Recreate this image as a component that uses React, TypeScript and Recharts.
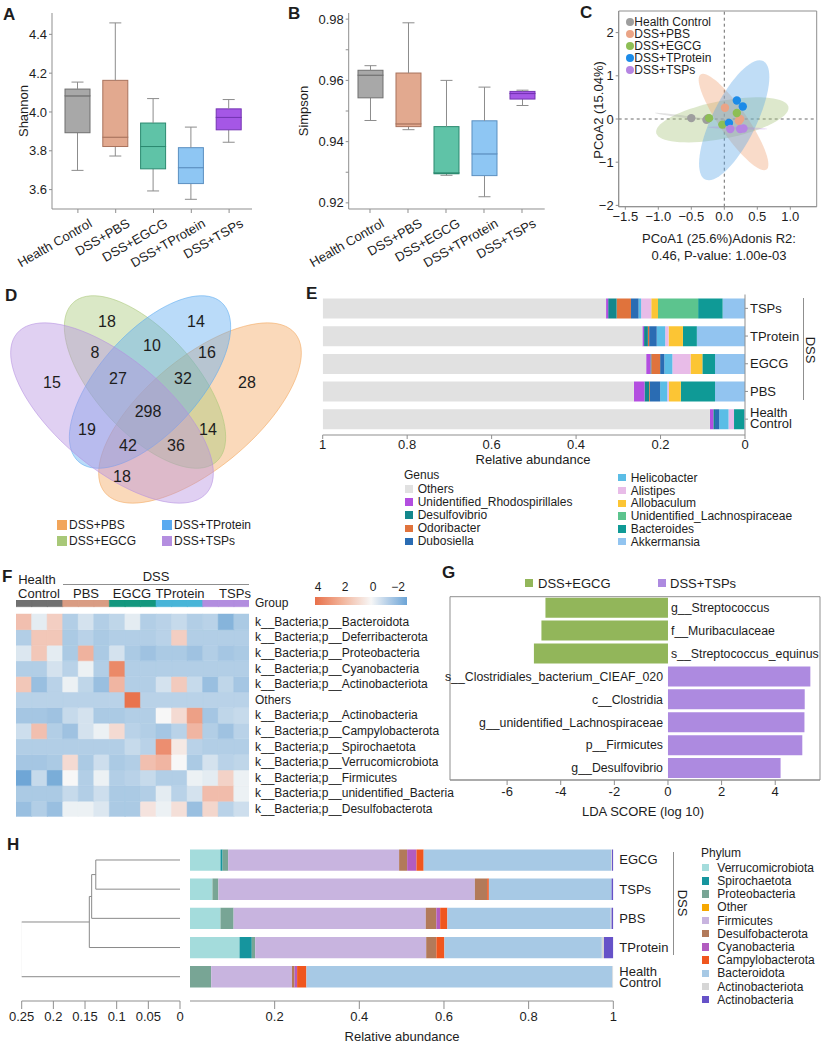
import React from "react";
import { Bar, BarChart, Cell, LabelList, ReferenceArea, ReferenceLine, Scatter, ScatterChart, XAxis, YAxis } from "recharts";

const FONT = '"Liberation Sans", Arial, Helvetica, sans-serif';
const INK = "#1d1d1d";
const AXIS = "#8f8f8f";

// ---- A / B: alpha diversity
const groups = ["Health Control", "DSS+PBS", "DSS+EGCG", "DSS+TProtein", "DSS+TSPs"];
const boxFill = ["#a8a8a8", "#e2a98f", "#5fc3a7", "#8ec6f3", "#a557e6"];
const boxEdge = ["#6f6f6f", "#a9735d", "#2c8a70", "#5b8fc0", "#7434b3"];
const shannonMin = [3.699, 3.773, 3.593, 3.55, 3.844];
const shannonQ1 = [3.893, 3.822, 3.707, 3.631, 3.908];
const shannonMed = [4.083, 3.87, 3.822, 3.713, 3.972];
const shannonQ3 = [4.118, 4.163, 3.943, 3.816, 4.016];
const shannonMax = [4.154, 4.459, 4.069, 3.922, 4.064];
const simpsonMin = [0.9469, 0.9439, 0.929, 0.922, 0.9518];
const simpsonQ1 = [0.9543, 0.9449, 0.9295, 0.9289, 0.9539];
const simpsonMed = [0.9617, 0.9458, 0.9298, 0.936, 0.9557];
const simpsonQ3 = [0.9633, 0.9624, 0.9449, 0.9468, 0.9564];
const simpsonMax = [0.9648, 0.9788, 0.96, 0.9578, 0.9568];

// ---- C: PCoA
const pcoaColor = ["#9e9e9e", "#eaa486", "#8dbe55", "#1c8be8", "#b585e2"];
const pcoaX = [[-0.5, -0.27, -0.25], [0.01, 0.22, 0.24], [-0.23, 0.19, -0.03], [0.19, 0.28, 0.07], [0.09, 0.24, 0.29]];
const pcoaY = [[0.02, -0.02, 0.01], [0.26, -0.04, 0.0], [0.02, 0.14, -0.13], [0.43, 0.29, -0.09], [-0.23, -0.23, -0.22]];
const ellCentre = [[-0.64, 0.06], [0.14, -0.07], [-0.03, -0.02], [0.15, -0.03], [0.2, -0.21]];
const ellAxisU = [[0.41, -0.08], [-0.5, 1.1], [1.0, 0.31], [0.44, 1.37], [0.45, -0.02]];
const ellAxisV = [[0.005, 0.025], [0.17, 0.19], [-0.08, 0.42], [0.3, -0.225], [0, 0.03]];
const ellFill = ["#9e9e9e", "#f0a070", "#a5c279", "#5aa5e8", "#b585e2"];
const ellOrder = [2, 1, 3, 0, 4];

// ---- D: Venn
const vennNames = ["DSS+PBS", "DSS+EGCG", "DSS+TProtein", "DSS+TSPs"];
const vennColor = ["#f2a55a", "#a8c878", "#5aaaf0", "#b48ee0"];
const vennCounts = [18, 14, 8, 10, 16, 15, 27, 32, 28, 298, 19, 14, 42, 36, 18];
const vennOval = [[200, 128, 124, 55, -40], [145, 97, 107, 50, 48], [150, 97, 107, 50, -48], [112, 128, 124, 55, 40]];
const vennSpot = [[107, 36], [196, 36], [95, 67], [152, 60], [207, 67], [52, 97], [118, 93], [183, 93], [247, 97], [148, 126], [87, 144], [208, 144], [128, 160], [176, 160], [122, 191]];

// ---- E: genus composition
const eGroups = ["TSPs", "TProtein", "EGCG", "PBS", "Health Control"];
const genusNames = ["Akkermansia", "Bacteroides", "Unidentified_Lachnospiraceae", "Allobaculum", "Alistipes", "Helicobacter", "Dubosiella", "Odoribacter", "Desulfovibrio", "Unidentified_Rhodospirillales", "Others"];
const genusColor = ["#92c4f0", "#0f9a96", "#5cc48e", "#fcc534", "#e8bce8", "#5bbde6", "#2a6cb3", "#e0733c", "#13878c", "#b34ee0", "#e1e1e1"];
const akkermansia = [0.053, 0.114, 0.071, 0.071, 0.002];
const bacteroides = [0.058, 0.033, 0.03, 0.081, 0.024];
const lachnospiraceae = [0.095, 0, 0, 0, 0];
const allobaculum = [0.016, 0.034, 0.028, 0.028, 0];
const alistipes = [0.024, 0.008, 0.043, 0.004, 0.013];
const helicobacter = [0.006, 0.02, 0.019, 0.017, 0.022];
const dubosiella = [0.018, 0.018, 0.01, 0.024, 0.01];
const odoribacter = [0.034, 0.003, 0.021, 0.002, 0];
const desulfovibrio = [0.02, 0.009, 0.002, 0.011, 0.004];
const rhodospirillales = [0.005, 0.004, 0.01, 0.025, 0.008];
const othersGenus = [0.671, 0.757, 0.766, 0.737, 0.917];
const genusValues = [akkermansia, bacteroides, lachnospiraceae, allobaculum, alistipes, helicobacter, dubosiella, odoribacter, desulfovibrio, rhodospirillales, othersGenus];

// ---- F: heatmap
const hmRows = ["k__Bacteria;p__Bacteroidota", "k__Bacteria;p__Deferribacterota", "k__Bacteria;p__Proteobacteria", "k__Bacteria;p__Cyanobacteria", "k__Bacteria;p__Actinobacteriota", "Others", "k__Bacteria;p__Actinobacteria", "k__Bacteria;p__Campylobacterota", "k__Bacteria;p__Spirochaetota", "k__Bacteria;p__Verrucomicrobiota", "k__Bacteria;p__Firmicutes", "k__Bacteria;p__unidentified_Bacteria", "k__Bacteria;p__Desulfobacterota"];
const hmCols = ["HC1", "HC2", "HC3", "PBS1", "PBS2", "PBS3", "EGCG1", "EGCG2", "EGCG3", "TP1", "TP2", "TP3", "TSP1", "TSP2", "TSP3"];
const hmGroupColor = ["#707070", "#d99c83", "#13977e", "#48b5d8", "#b28ddf"];
const hmVals = [
  [1.2, -0.2, 0.8, -0.9, -0.4, -0.9, -0.7, -0.2, -0.9, -0.8, -0.6, -0.9, -0.8, -1.6, -1.0],
  [-0.9, 1.0, 1.0, -1.0, -0.8, -1.0, -0.9, -0.9, -0.9, -0.8, 0.8, -0.9, -0.9, -0.9, -0.9],
  [-0.3, 1.0, -0.2, -1.0, 1.6, -1.0, -0.4, -1.0, -1.2, -1.0, -1.0, -1.2, -0.9, -1.1, -1.0],
  [-0.9, -0.9, -0.4, -0.8, -0.1, -0.9, 3.0, -0.9, -0.9, -0.9, -0.9, -0.9, -0.9, -0.9, -0.9],
  [1.0, -1.3, -0.8, -0.1, -0.7, -1.3, 1.5, -0.9, -0.9, -0.4, 0.9, -0.6, -1.3, -0.7, -1.1],
  [-0.8, -0.8, -0.8, -0.8, -0.8, -0.8, -0.8, 3.8, -0.8, -0.8, -0.8, -0.8, -0.8, -0.8, -0.8],
  [-1.1, -1.1, -1.2, -0.6, -0.4, -1.0, -1.0, -0.9, -0.9, 0.0, 0.5, 2.2, -1.1, -0.7, -0.6],
  [-0.5, 1.2, -0.9, -1.2, -0.4, -0.1, 0.5, -0.8, -0.9, -1.1, -0.8, 1.5, -0.9, -1.2, -0.8],
  [-0.9, -0.9, -0.9, -0.9, -0.9, -0.9, -0.9, -0.6, -0.8, 2.8, 0.2, -0.8, -0.9, -0.9, -0.9],
  [-1.1, -1.1, -1.0, 0.5, -1.0, -0.5, -1.0, -0.9, 1.2, 1.5, 0.0, -1.0, -0.4, -0.8, -0.7],
  [-2.0, -0.6, -1.8, 0.0, -0.9, -0.1, -0.9, -0.8, -0.6, -0.9, -0.9, -0.1, -0.2, 0.7, -0.1],
  [-1.0, -1.0, -1.0, -0.6, -0.9, -0.5, -1.0, -1.0, -0.9, -0.2, -0.8, -0.4, 1.3, 1.3, -0.1],
  [-1.3, -0.9, -1.3, -0.1, -0.1, -0.3, -1.0, -1.0, 0.3, -0.1, 0.4, -1.3, 0.6, -0.8, -0.5],
];

// ---- G: LEfSe
const ldaTaxa = ["g__Streptococcus", "f__Muribaculaceae", "s__Streptococcus_equinus", "s__Clostridiales_bacterium_CIEAF_020", "c__Clostridia", "g__unidentified_Lachnospiraceae", "p__Firmicutes", "g__Desulfovibrio"];
const ldaScore = [-4.57, -4.72, -5.0, 5.31, 5.1, 5.09, 5.01, 4.2];
const ldaColor = { neg: "#92b65a", pos: "#ad8ae0" };

// ---- H: phylum composition + clustering
const hGroups = ["EGCG", "TSPs", "PBS", "TProtein", "Health Control"];
const phylumNames = ["Verrucomicrobiota", "Spirochaetota", "Proteobacteria", "Other", "Firmicutes", "Desulfobacterota", "Cyanobacteria", "Campylobacterota", "Bacteroidota", "Actinobacteriota", "Actinobacteria"];
const phylumColor = ["#a4dcdc", "#16959e", "#78a595", "#f7a800", "#c8b4df", "#b27a5a", "#b25cc0", "#f0561e", "#a7c9e5", "#d6d6d6", "#6652c8"];
const verrucomicrobiota = [0.072, 0.053, 0.072, 0.117, 0];
const spirochaetota = [0.005, 0, 0, 0.029, 0];
const proteobacteria = [0.013, 0.014, 0.031, 0.008, 0.05];
const otherPhylum = [0, 0, 0, 0, 0];
const firmicutes = [0.404, 0.606, 0.454, 0.404, 0.191];
const desulfobacterota = [0.019, 0.029, 0.025, 0.024, 0.006];
const cyanobacteria = [0.022, 0, 0.009, 0, 0.006];
const campylobacterota = [0.017, 0.004, 0.017, 0.019, 0.022];
const bacteroidota = [0.443, 0.29, 0.386, 0.372, 0.723];
const actinobacteriota = [0.002, 0, 0.002, 0.005, 0.002];
const actinobacteria = [0.003, 0.004, 0.004, 0.022, 0];
const phylumValues = [verrucomicrobiota, spirochaetota, proteobacteria, otherPhylum, firmicutes, desulfobacterota, cyanobacteria, campylobacterota, bacteroidota, actinobacteriota, actinobacteria];
// merges: [child a, child b, height]; leaves are 0..4, merges get ids 5..8
const treeMerges = [[0, 1, 0.133], [5, 2, 0.1395], [6, 3, 0.1432], [7, 4, 0.2516]];

const minus = (s: string) => s.replace("-", "\u2212");

function T({ x, y, children, size = 13, anchor = "start", bold = false, rot = 0 }: any) {
  const tx = anchor === "middle" ? "-50%" : anchor === "end" ? "-100%" : "0";
  return (
    <div style={{ position: "absolute", left: x, top: y, transform: `translate(${tx}, -50%)${rot ? ` rotate(${rot}deg)` : ""}`, fontSize: size, fontWeight: bold ? 700 : 400, whiteSpace: "nowrap", lineHeight: 1, color: INK }}>
      {children}
    </div>
  );
}

function Swatch({ x, y, size, color, round = false }: any) {
  return <div style={{ position: "absolute", left: x, top: y - size / 2, width: size, height: size, background: color, borderRadius: round ? "50%" : 0 }} />;
}

const RotTick = (p: any) => (
  <text x={p.x + 15} y={p.y + 11} transform={`rotate(-30 ${p.x + 15} ${p.y + 11})`} textAnchor="end" fontSize={13} fill={INK}>
    {p.payload.value}
  </text>
);

const whisker = (top: boolean) => (p: any) => {
  const cx = p.x + p.width / 2;
  const cap = top ? p.y : p.y + p.height;
  return (
    <g>
      <line x1={cx} x2={cx} y1={p.y} y2={p.y + p.height} stroke="#8c8c8c" />
      <line x1={cx - 6} x2={cx + 6} y1={cap} y2={cap} stroke="#8c8c8c" />
    </g>
  );
};

const boxShape = (p: any) => {
  const i = p.payload?.i ?? p.index;
  return <rect x={p.x} y={p.y} width={p.width} height={Math.max(p.height, 0.5)} fill={boxFill[i]} stroke={boxEdge[i]} />;
};

function BoxPanel({ left, width, yWidth, domain, ticks, digits, minor, pad, stats }: any) {
  const [mn, q1, md, q3, mx] = stats;
  const data = groups.map((name, i) => ({ name, i, base: mn[i], lw: q1[i] - mn[i], lb: md[i] - q1[i], hb: q3[i] - md[i], hw: mx[i] - q3[i] }));
  const fmt = (v: number) => (minor && Math.round(v * 100) % 2 ? "" : v.toFixed(digits));
  return (
    <div style={{ position: "absolute", left, top: 0 }}>
      <BarChart width={width} height={285} data={data} margin={{ top: 13, right: 4, left: 0, bottom: 0 }} barSize={25}>
        <XAxis dataKey="name" interval={0} height={76} tick={RotTick} tickSize={4} tickMargin={2} stroke={AXIS} padding={{ left: pad[0], right: pad[1] }} />
        <YAxis type="number" width={yWidth} domain={domain} ticks={ticks} allowDataOverflow tickFormatter={fmt} tickSize={3} tickMargin={2} stroke={AXIS} tick={{ fill: INK, fontSize: 13 }} />
        <Bar dataKey="base" stackId="s" shape={() => <g />} isAnimationActive={false} />
        <Bar dataKey="lw" stackId="s" shape={whisker(false)} isAnimationActive={false} />
        <Bar dataKey="lb" stackId="s" shape={boxShape} isAnimationActive={false} />
        <Bar dataKey="hb" stackId="s" shape={boxShape} isAnimationActive={false} />
        <Bar dataKey="hw" stackId="s" shape={whisker(true)} isAnimationActive={false} />
      </BarChart>
    </div>
  );
}

function ring(c: number[], u: number[], v: number[]) {
  return Array.from({ length: 73 }, (_, k) => {
    const t = (2 * Math.PI * k) / 72;
    return { x: c[0] + Math.cos(t) * u[0] + Math.sin(t) * v[0], y: c[1] + Math.cos(t) * u[1] + Math.sin(t) * v[1] };
  });
}

function oval([cx, cy, a, b, deg]: number[]) {
  const r = (deg * Math.PI) / 180;
  return Array.from({ length: 91 }, (_, k) => {
    const t = (2 * Math.PI * k) / 90;
    return { x: cx + a * Math.cos(t) * Math.cos(r) - b * Math.sin(t) * Math.sin(r), y: cy + a * Math.cos(t) * Math.sin(r) + b * Math.sin(t) * Math.cos(r) };
  });
}

function heat(v: number) {
  const w = [247, 247, 247];
  const end = v >= 0 ? [232, 110, 70] : [88, 152, 208];
  const t = v >= 0 ? Math.min(v / 4, 1) ** 0.75 : Math.min(-v / 2.4, 1) ** 0.85;
  const c = w.map((x, k) => Math.round(x + (end[k] - x) * t));
  return `rgb(${c[0]},${c[1]},${c[2]})`;
}

const TwoLineTick = (shift: number[]) => (p: any) => {
  const s = String(p.payload.value);
  if (s === "Health Control")
    return (
      <text x={p.x} y={p.y} fontSize={13} fill={INK}>
        <tspan x={p.x} dy={shift[0]}>Health</tspan>
        <tspan x={p.x} dy={shift[1]}>Control</tspan>
      </text>
    );
  return <text x={p.x} y={p.y} dy={4.5} fontSize={13} fill={INK}>{s}</text>;
};

const LdaLabel = (p: any) => {
  const i = ldaTaxa.indexOf(String(p.value));
  const v = ldaScore[i];
  const zero = v < 0 ? Math.max(p.x, p.x + p.width) : Math.min(p.x, p.x + p.width);
  return (
    <text x={v < 0 ? zero + 3 : zero - 5} y={p.y + p.height / 2} dy={4.3} textAnchor={v < 0 ? "start" : "end"} fontSize={12.3} fill={INK}>
      {p.value}
    </text>
  );
};

export default function App() {
  const genusData = eGroups.map((name, i) => {
    const o: any = { name };
    genusNames.forEach((g, k) => (o[g] = genusValues[k][i]));
    return o;
  });
  const phylumData = hGroups.map((name, i) => {
    const o: any = { name };
    phylumNames.forEach((g, k) => (o[g] = phylumValues[k][i]));
    return o;
  });
  const hmData = hmCols.map((col) => {
    const o: any = { col, gap: 0.47, grp: 0.43 };
    hmRows.forEach((_, r) => (o["r" + r] = 1));
    return o;
  });
  const ldaData = ldaTaxa.map((taxon, i) => ({ taxon, score: ldaScore[i] }));

  // dendrogram node positions
  const nodeY: number[] = hGroups.map((_, i) => i);
  const nodeH: number[] = hGroups.map(() => 0);
  const links = treeMerges.map(([a, b, h]) => {
    const pts = [{ x: nodeH[a], y: nodeY[a] }, { x: h, y: nodeY[a] }, { x: h, y: nodeY[b] }, { x: nodeH[b], y: nodeY[b] }];
    nodeY.push((nodeY[a] + nodeY[b]) / 2);
    nodeH.push(h);
    return pts;
  });

  const genusLegend = [...genusNames].reverse();

  return (
    <div style={{ position: "absolute", left: 0, top: 0, width: 824, height: 1046, background: "#fff", fontFamily: FONT, color: INK, overflow: "hidden" }}>
      {/* A */}
      <BoxPanel left={0} width={256} yWidth={52} domain={[3.5, 4.51]} ticks={[3.6, 3.8, 4.0, 4.2, 4.4]} digits={1} pad={[7, 4]} stats={[shannonMin, shannonQ1, shannonMed, shannonQ3, shannonMax]} />
      <T x={3} y={14} size={17} bold>A</T>
      <T x={23} y={111} anchor="middle" rot={-90}>Shannon</T>

      {/* B */}
      <BoxPanel left={280} width={268.7} yWidth={68.7} domain={[0.918, 0.982]} ticks={[0.92, 0.93, 0.94, 0.95, 0.96, 0.97, 0.98]} digits={2} minor pad={[2.3, 3.7]} stats={[simpsonMin, simpsonQ1, simpsonMed, simpsonQ3, simpsonMax]} />
      <T x={288} y={12.5} size={17} bold>B</T>
      <T x={303} y={111} anchor="middle" rot={-90}>Simpson</T>

      {/* C */}
      <div style={{ position: "absolute", left: 560, top: 0 }}>
        <ScatterChart width={262} height={230} margin={{ top: 11, right: 5.3, left: 0, bottom: 0 }}>
          <XAxis type="number" dataKey="x" domain={[-1.6, 1.4]} ticks={[-1.5, -1, -0.5, 0, 0.5, 1]} allowDataOverflow height={23.3} tickFormatter={(v: number) => minus(v.toFixed(1))} tickSize={3} tickMargin={2} stroke={AXIS} tick={{ fill: INK, fontSize: 13 }} />
          <YAxis type="number" dataKey="y" domain={[-2.03, 2.5]} ticks={[-2, -1, 0, 1, 2]} allowDataOverflow width={58.7} tickFormatter={(v: number) => minus(String(v))} tickSize={3} tickMargin={2} stroke={AXIS} tick={{ fill: INK, fontSize: 13 }} />
          <ReferenceArea x1={-1.6} x2={1.4} y1={-2.03} y2={2.5} fill="none" stroke={AXIS} />
          {ellOrder.map((k) => (
            <Scatter key={"e" + k} data={ring(ellCentre[k], ellAxisU[k], ellAxisV[k])} line={{ fill: ellFill[k], fillOpacity: k === 0 || k === 4 ? 0.3 : 0.38, stroke: "none" }} shape={() => <g />} isAnimationActive={false} />
          ))}
          <ReferenceLine x={0} stroke="#6b6b6b" strokeDasharray="3 3" />
          <ReferenceLine y={0} stroke="#6b6b6b" strokeDasharray="3 3" />
          {groups.map((g, k) => (
            <Scatter key={g} data={pcoaX[k].map((x, i) => ({ x, y: pcoaY[k][i] }))} shape={(p: any) => <circle cx={p.cx} cy={p.cy} r={4.2} fill={pcoaColor[k]} />} isAnimationActive={false} />
          ))}
        </ScatterChart>
      </div>
      <T x={580} y={12} size={17} bold>C</T>
      {groups.map((g, k) => (
        <React.Fragment key={g}>
          <Swatch x={625.5} y={22 + 12 * k} size={8} color={pcoaColor[k]} round />
          <T x={634.3} y={22 + 12 * k} size={12}>{g}</T>
        </React.Fragment>
      ))}
      <T x={598} y={110} anchor="middle" rot={-90}>PCoA2 (15.04%)</T>
      <T x={719} y={238} anchor="middle">PCoA1 (25.6%)Adonis R2:</T>
      <T x={719} y={255} anchor="middle">0.46, P-value: 1.00e-03</T>

      {/* D */}
      <div style={{ position: "absolute", left: 0, top: 285 }}>
        <ScatterChart width={320} height={280} margin={{ top: 0, right: 0, left: 0, bottom: 0 }}>
          <XAxis type="number" dataKey="x" domain={[0, 320]} hide allowDataOverflow />
          <YAxis type="number" dataKey="y" domain={[0, 280]} reversed hide allowDataOverflow />
          {vennOval.map((o, k) => (
            <Scatter key={"v" + k} data={oval(o)} line={{ fill: vennColor[k], fillOpacity: 0.42, stroke: vennColor[k], strokeOpacity: 0.7, strokeWidth: 0.8 }} shape={() => <g />} isAnimationActive={false} />
          ))}
          <Scatter
            data={vennCounts.map((n, i) => ({ x: vennSpot[i][0], y: vennSpot[i][1], n }))}
            shape={(p: any) => (
              <text x={p.cx} y={p.cy} dy={5.5} textAnchor="middle" fontSize={16} fill={INK}>
                {p.payload.n}
              </text>
            )}
            isAnimationActive={false}
          />
        </ScatterChart>
      </div>
      <T x={5} y={295} size={17} bold>D</T>
      {vennNames.map((n, k) => {
        const x = k < 2 ? 57 : 162;
        const y = k % 2 === 0 ? 525 : 541;
        return (
          <React.Fragment key={n}>
            <Swatch x={x} y={y} size={10} color={vennColor[k]} />
            <T x={x + 12} y={y} size={12}>{n}</T>
          </React.Fragment>
        );
      })}

      {/* E */}
      <div style={{ position: "absolute", left: 310, top: 285 }}>
        <BarChart layout="vertical" width={514} height={180} data={genusData} margin={{ top: 9.5, right: 0, left: 12.7, bottom: 0 }} barSize={20}>
          <XAxis type="number" domain={[0, 1]} reversed ticks={[0, 0.2, 0.4, 0.6, 0.8, 1]} allowDataOverflow height={30} tickSize={4} tickMargin={1} stroke={AXIS} tick={{ fill: INK, fontSize: 13 }} />
          <YAxis type="category" dataKey="name" orientation="right" width={79} tickSize={3} tickMargin={2} stroke={AXIS} tick={TwoLineTick([-1.8, 11])} padding={{ top: 0, bottom: 2 }} />
          {genusNames.map((g, k) => (
            <Bar key={g} dataKey={g} stackId="g" fill={genusColor[k]} isAnimationActive={false} />
          ))}
        </BarChart>
      </div>
      <T x={306} y={293} size={17} bold>E</T>
      <T x={533} y={459} anchor="middle">Relative abundance</T>
      <div style={{ position: "absolute", left: 802.5, top: 298, width: 1, height: 102, background: AXIS }} />
      <T x={810} y={350} anchor="middle" rot={90}>DSS</T>
      <T x={404} y={475} size={12}>Genus</T>
      {genusLegend.map((g, k) => {
        const col = k < 5 ? 0 : 1;
        const x = col ? 618 : 405;
        const y = col ? 477.7 + 12.8 * (k - 5) : 489 + 13.1 * k;
        return (
          <React.Fragment key={g}>
            <Swatch x={x} y={y} size={7.5} color={genusColor[genusNames.indexOf(g)]} />
            <T x={x + 12.7} y={y} size={12}>{g}</T>
          </React.Fragment>
        );
      })}

      {/* F */}
      <div style={{ position: "absolute", left: 16, top: 600 }}>
        <BarChart width={233.3} height={216.8} data={hmData} margin={{ top: 0, right: 0, left: 0, bottom: 0 }} barCategoryGap={0} barGap={0}>
          <XAxis dataKey="col" hide />
          <YAxis type="number" domain={[0, 13.9]} hide allowDataOverflow />
          {hmRows.map((_, k) => {
            const r = hmRows.length - 1 - k;
            return (
              <Bar key={"r" + r} dataKey={"r" + r} stackId="h" isAnimationActive={false}>
                {hmVals[r].map((v, j) => (
                  <Cell key={j} fill={heat(v)} stroke={heat(v)} strokeWidth={0.5} />
                ))}
              </Bar>
            );
          })}
          <Bar dataKey="gap" stackId="h" fill="none" isAnimationActive={false} />
          <Bar dataKey="grp" stackId="h" isAnimationActive={false}>
            {hmCols.map((c, j) => (
              <Cell key={c} fill={hmGroupColor[Math.floor(j / 3)]} stroke={hmGroupColor[Math.floor(j / 3)]} strokeWidth={0.5} />
            ))}
          </Bar>
        </BarChart>
      </div>
      <T x={2} y={576} size={17} bold>F</T>
      <T x={37} y={579} anchor="middle">Health</T>
      <T x={39} y={593} anchor="middle">Control</T>
      <T x={156} y={576} anchor="middle">DSS</T>
      <div style={{ position: "absolute", left: 63, top: 584, width: 186, height: 1, background: AXIS }} />
      <T x={86} y={593} anchor="middle">PBS</T>
      <T x={132} y={593} anchor="middle">EGCG</T>
      <T x={180} y={593} anchor="middle">TProtein</T>
      <T x={235} y={593} anchor="middle">TSPs</T>
      <T x={255} y={603} size={12}>Group</T>
      {hmRows.map((r, k) => (
        <T key={r} x={255} y={621.7 + 15.6 * k} size={12}>{r}</T>
      ))}
      <div style={{ position: "absolute", left: 315, top: 597, width: 92, height: 8, background: "linear-gradient(to right, #e8704a 0%, #f2b59c 30%, #f7f7f7 61%, #b2cde7 80%, #6ca4d6 100%)" }} />
      <T x={318} y={587} size={12} anchor="middle">4</T>
      <T x={345} y={587} size={12} anchor="middle">2</T>
      <T x={373} y={587} size={12} anchor="middle">0</T>
      <T x={398} y={587} size={12} anchor="middle">{"\u22122"}</T>

      {/* G */}
      <div style={{ position: "absolute", left: 445, top: 590 }}>
        <BarChart layout="vertical" width={380} height={230} data={ldaData} margin={{ top: 6.7, right: 5, left: 5, bottom: 0 }} barSize={20}>
          <XAxis type="number" domain={[-8.13, 5.67]} ticks={[-6, -4, -2, 0, 2, 4]} allowDataOverflow height={40} tickSize={5} tickMargin={2} stroke={AXIS} tick={{ fill: INK, fontSize: 13 }} />
          <YAxis type="category" dataKey="taxon" hide />
          <ReferenceArea x1={-8.13} x2={5.67} fill="none" stroke={AXIS} />
          <Bar dataKey="score" isAnimationActive={false}>
            {ldaScore.map((v, i) => (
              <Cell key={i} fill={v < 0 ? ldaColor.neg : ldaColor.pos} />
            ))}
            <LabelList dataKey="taxon" content={LdaLabel} />
          </Bar>
        </BarChart>
      </div>
      <T x={442} y={572} size={17} bold>G</T>
      <Swatch x={525} y={583} size={8} color={ldaColor.neg} />
      <T x={538} y={583}>DSS+EGCG</T>
      <Swatch x={658} y={583} size={8} color={ldaColor.pos} />
      <T x={670} y={583}>DSS+TSPs</T>
      <T x={643} y={810.7} anchor="middle">LDA SCORE (log 10)</T>

      {/* H */}
      <div style={{ position: "absolute", left: 0, top: 840 }}>
        <ScatterChart width={190} height={206} margin={{ top: 5.4, right: 10, left: 21.7, bottom: 0 }}>
          <XAxis type="number" dataKey="x" domain={[0, 0.25]} reversed ticks={[0, 0.05, 0.1, 0.15, 0.2, 0.25]} allowDataOverflow height={45} tickFormatter={(v: number) => String(+v.toFixed(2))} tickSize={8} tickMargin={3} stroke={AXIS} tick={{ fill: INK, fontSize: 13 }} />
          <YAxis type="number" dataKey="y" domain={[-0.5, 4.5]} reversed hide allowDataOverflow padding={{ top: 0, bottom: 9.7 }} />
          {links.map((pts, k) => (
            <Scatter key={"l" + k} data={pts} line={{ stroke: "#8a8a8a", strokeWidth: 1 }} shape={() => <g />} isAnimationActive={false} />
          ))}
        </ScatterChart>
      </div>
      <div style={{ position: "absolute", left: 190, top: 840 }}>
        <BarChart layout="vertical" width={490} height={206} data={phylumData} margin={{ top: 5.4, right: 0, left: 0, bottom: 0 }} barSize={21.3}>
          <XAxis type="number" domain={[0, 1]} ticks={[0, 0.2, 0.4, 0.6, 0.8, 1]} allowDataOverflow height={45} tickSize={8} tickMargin={3} stroke={AXIS} tick={{ fill: INK, fontSize: 13 }} />
          <YAxis type="category" dataKey="name" orientation="right" width={66.7} axisLine={false} tickLine={false} tickSize={4} tickMargin={2} tick={TwoLineTick([-1.2, 11.7])} padding={{ top: 0, bottom: 9.7 }} />
          {phylumNames.map((g, k) => (
            <Bar key={g} dataKey={g} stackId="p" fill={phylumColor[k]} isAnimationActive={false} />
          ))}
        </BarChart>
      </div>
      <T x={7} y={844} size={17} bold>H</T>
      <T x={402} y={1036} anchor="middle">Relative abundance</T>
      <div style={{ position: "absolute", left: 673, top: 851.7, width: 1, height: 103.3, background: AXIS }} />
      <T x={681.7} y={903} anchor="middle" rot={90}>DSS</T>
      <T x={701} y={852.7} size={12}>Phylum</T>
      {phylumNames.map((g, k) => (
        <React.Fragment key={g}>
          <Swatch x={701.5} y={867.7 + 13.2 * k} size={7.5} color={phylumColor[k]} />
          <T x={717.3} y={867.7 + 13.2 * k} size={12}>{g}</T>
        </React.Fragment>
      ))}
    </div>
  );
}
